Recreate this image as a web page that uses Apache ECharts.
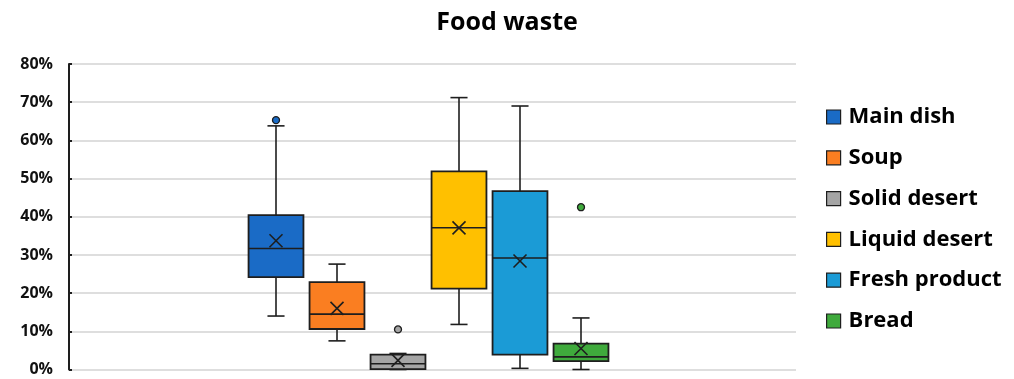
<!DOCTYPE html>
<html>
<head>
<meta charset="utf-8">
<script src="https://cdn.jsdelivr.net/npm/echarts@6/dist/echarts.min.js"></script>
<style>
  html, body { margin: 0; padding: 0; background: #fff; }
  #chart { width: 1014px; height: 379px; }
</style>
</head>
<body>
<div id="chart"></div>
<script>
// Food waste share per course (percent)
const categories = ['Main dish', 'Soup', 'Solid desert', 'Liquid desert', 'Fresh product', 'Bread'];
const whiskerLow  = [14.0,  7.5, 0.0, 11.8,  0.3,  0.0];
const quartile1   = [24.2, 10.6, 0.1, 21.2,  3.9,  2.2];
const medians     = [31.7, 14.5, 1.5, 37.1, 29.2,  3.3];
const quartile3   = [40.4, 22.9, 3.9, 51.9, 46.7,  6.8];
const whiskerHigh = [63.8, 27.6, 4.2, 71.2, 69.0, 13.5];
const means       = [33.7, 16.0, 2.4, 37.1, 28.4,  5.5];
const outliers    = [[65.3], [], [10.5], [], [], [42.5]];
const yTicks = [0, 10, 20, 30, 40, 50, 60, 70, 80];

const colors = ['#1A6BC6', '#FA7E21', '#A5A5A5', '#FFC000', '#1B9BD6', '#3FAA3C'];
const edge = '#1E1E1E';
const font = '"Open Sans", "Noto Sans", sans-serif';

function renderBox(params, api) {
  const x = api.value(0);
  const band = api.size([1, 0])[0];
  const boxW = band * 0.9;
  const capW = band * 0.28;
  const pLow = api.coord([x, api.value(1)]);
  const pQ1 = api.coord([x, api.value(2)]);
  const pMed = api.coord([x, api.value(3)]);
  const pQ3 = api.coord([x, api.value(4)]);
  const pHigh = api.coord([x, api.value(5)]);
  const pMean = api.coord([x, api.value(6)]);
  const cx = pMed[0];
  const fill = api.visual('color');
  const line = { stroke: edge, lineWidth: 1.6 };
  const m = 6.5;
  return {
    type: 'group',
    children: [
      { type: 'line', shape: { x1: cx, y1: pLow[1], x2: cx, y2: pQ1[1] }, style: line },
      { type: 'line', shape: { x1: cx, y1: pQ3[1], x2: cx, y2: pHigh[1] }, style: line },
      { type: 'line', shape: { x1: cx - capW / 2, y1: pLow[1], x2: cx + capW / 2, y2: pLow[1] }, style: line },
      { type: 'line', shape: { x1: cx - capW / 2, y1: pHigh[1], x2: cx + capW / 2, y2: pHigh[1] }, style: line },
      { type: 'rect', shape: { x: cx - boxW / 2, y: pQ3[1], width: boxW, height: pQ1[1] - pQ3[1] },
        style: { fill: fill, stroke: edge, lineWidth: 1.8 } },
      { type: 'line', shape: { x1: cx - boxW / 2, y1: pMed[1], x2: cx + boxW / 2, y2: pMed[1] }, style: line },
      { type: 'line', shape: { x1: cx - m, y1: pMean[1] - m, x2: cx + m, y2: pMean[1] + m }, style: line },
      { type: 'line', shape: { x1: cx - m, y1: pMean[1] + m, x2: cx + m, y2: pMean[1] - m }, style: line }
    ]
  };
}

const series = [];
categories.forEach(function (name, i) {
  series.push({
    name: name,
    type: 'custom',
    xAxisIndex: 1,
    yAxisIndex: 1,
    itemStyle: { color: colors[i], borderColor: edge, borderWidth: 1.2 },
    renderItem: renderBox,
    encode: { x: 0, y: [1, 2, 3, 4, 5, 6] },
    data: [[i, whiskerLow[i], quartile1[i], medians[i], quartile3[i], whiskerHigh[i], means[i]]],
    z: 3
  });
  if (outliers[i].length) {
    series.push({
      name: name,
      type: 'scatter',
      xAxisIndex: 1,
      yAxisIndex: 1,
      symbol: 'circle',
      symbolSize: 7,
      itemStyle: { color: colors[i], borderColor: edge, borderWidth: 1.3, opacity: 1 },
      data: outliers[i].map(function (v) { return [i, v]; }),
      z: 4
    });
  }
});

const chart = echarts.init(document.getElementById('chart'), null, { renderer: 'canvas' });
chart.setOption({
  animation: false,
  backgroundColor: '#ffffff',
  title: {
    text: 'Food waste',
    left: 'center',
    top: 5,
    textStyle: { fontFamily: font, fontWeight: 'bold', fontSize: 25, color: '#000' }
  },
  legend: {
    orient: 'vertical',
    left: 826,
    top: 106,
    padding: 0,
    itemWidth: 14,
    itemHeight: 14,
    itemGap: 18.8,
    icon: 'rect',
    itemStyle: { borderColor: edge, borderWidth: 1.2 },
    textStyle: { fontFamily: font, fontWeight: 'bold', fontSize: 22, lineHeight: 22, color: '#000', padding: [0, 0, 0, 3] },
    data: categories
  },
  grid: [
    { left: 69, top: 64, width: 727, height: 305.5 },
    { left: 245.5, top: 64, width: 366, height: 305.5 }
  ],
  xAxis: [
    { gridIndex: 0, type: 'value', show: false, min: 0, max: 1 },
    { gridIndex: 1, type: 'category', data: categories, show: false, boundaryGap: true }
  ],
  yAxis: [
    {
      gridIndex: 0,
      type: 'value',
      min: yTicks[0],
      max: yTicks[yTicks.length - 1],
      interval: 10,
      axisLine: { show: true, lineStyle: { color: edge, width: 2 } },
      axisTick: { show: true, inside: true, length: 3, lineStyle: { color: edge, width: 2 } },
      axisLabel: {
        formatter: '{value}%',
        margin: 16,
        fontFamily: font,
        fontWeight: 'bold',
        fontSize: 16,
        color: '#111'
      },
      splitLine: { show: true, lineStyle: { color: '#DEDEDE', width: 2 } }
    },
    {
      gridIndex: 1,
      type: 'value',
      min: yTicks[0],
      max: yTicks[yTicks.length - 1],
      interval: 10,
      show: false,
      splitLine: { show: false }
    }
  ],
  series: series
});
</script>
</body>
</html>
